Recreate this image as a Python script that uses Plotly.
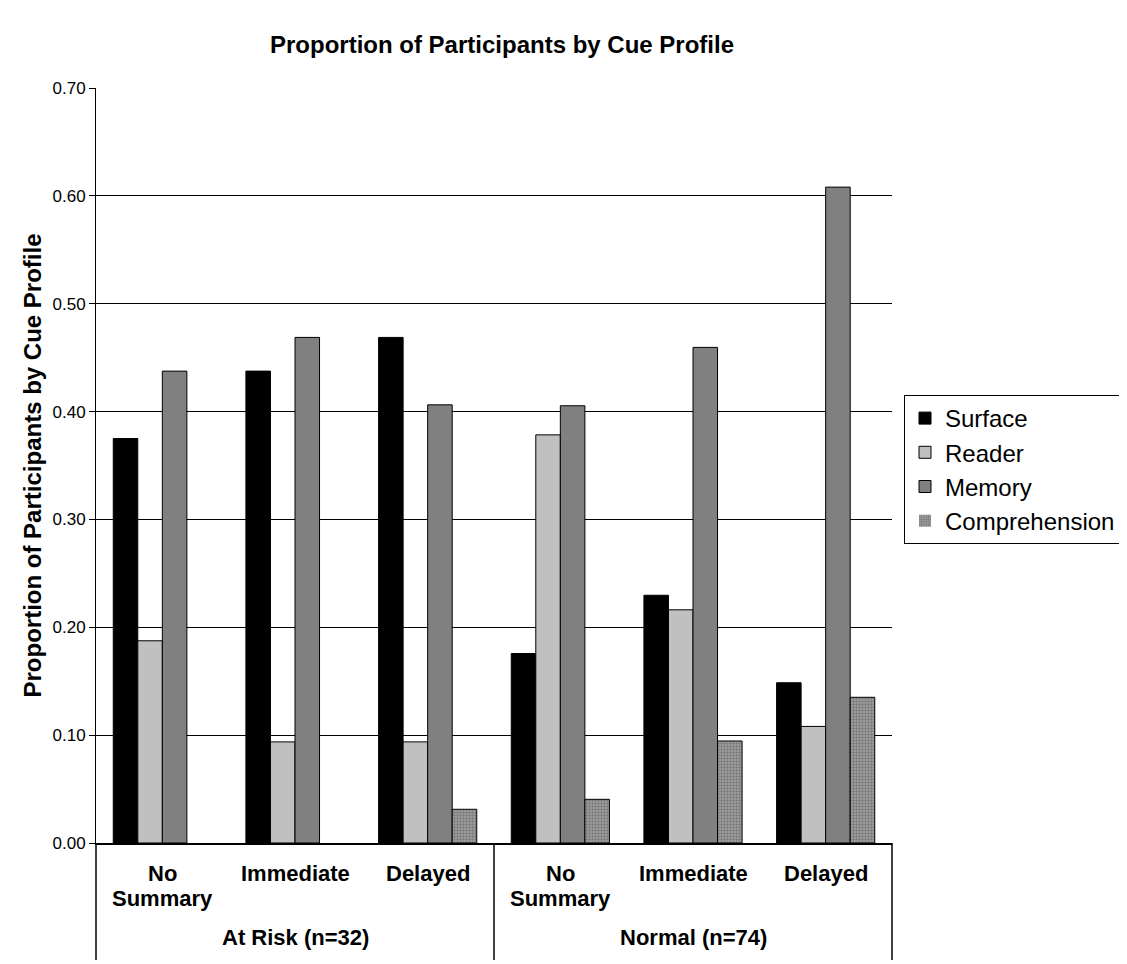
import plotly.graph_objects as go

categories = ["No<br>Summary", "Immediate", "Delayed", "No<br>Summary", "Immediate", "Delayed"]
groups = ["At Risk (n=32)", "Normal (n=74)"]
surface = [0.375, 0.4375, 0.46875, 0.1757, 0.2297, 0.1486]
reader = [0.1875, 0.09375, 0.09375, 0.3784, 0.2162, 0.1081]
memory = [0.4375, 0.46875, 0.40625, 0.4054, 0.4595, 0.6081]
comprehension = [0.0, 0.0, 0.03125, 0.0405, 0.0946, 0.1351]
yticks = [0.0, 0.1, 0.2, 0.3, 0.4, 0.5, 0.6, 0.7]

FONT = "Liberation Sans, Arial, sans-serif"
xs = list(range(len(categories)))

# page has an 8px body margin; figure coords = screen coords - 8
W, H = 1119, 956
L, T = 88, 80
PR, PB = 884, 835  # plot right / bottom in figure coords
PH = PB - T

fig = go.Figure()
series = [
    ("Surface", surface, "#000000", None),
    ("Reader", reader, "#c0c0c0", None),
    ("Memory", memory, "#808080", None),
    ("Comprehension", comprehension, "#909090",
     dict(shape=".", fgcolor="#505050", bgcolor="#a4a4a4", size=3, solidity=0.5)),
]
for name, vals, col, pat in series:
    marker = dict(color=col,
                  line=dict(color="#000000", width=[0 if v == 0 else 1 for v in vals]))
    if pat:
        marker["pattern"] = pat
    fig.add_trace(go.Bar(name=name, x=xs, y=vals, marker=marker))

fig.update_layout(
    width=W, height=H,
    margin=dict(l=L, r=W - PR, t=T, b=H - PB, autoexpand=False),
    paper_bgcolor="white", plot_bgcolor="white",
    barmode="group", bargap=0.26, bargroupgap=0,
    font=dict(family=FONT, color="#000000"),
    title=dict(text="<b>Proportion of Participants by Cue Profile</b>",
               x=494 / W, xanchor="center",
               y=1 - 37 / H, yanchor="middle",
               font=dict(size=24, family=FONT)),
    showlegend=True,
    legend=dict(x=(896 - L) / (PR - L), y=(PB - 387) / PH, xanchor="left", yanchor="top",
                bordercolor="#000000", borderwidth=1, bgcolor="white",
                font=dict(size=24, family=FONT), traceorder="normal"),
)

fig.update_xaxes(
    range=[-0.5, 5.5], tickmode="array", tickvals=xs, ticktext=[""] * 6,
    showline=True, linecolor="#000000", linewidth=2, ticks="",
    showgrid=False, zeroline=False,
)
fig.update_yaxes(
    range=[0, 0.7], tickmode="array", tickvals=yticks,
    ticktext=[f"{v:.2f}" for v in yticks],
    showline=True, linecolor="#000000", linewidth=1,
    ticks="outside", ticklen=6, tickcolor="#000000",
    showgrid=True, gridcolor="#000000", gridwidth=1,
    zeroline=False, tickfont=dict(size=17, family=FONT),
    title=dict(text="<b>Proportion of Participants by Cue Profile</b>",
               font=dict(size=24, family=FONT), standoff=4),
)

# category labels (one annotation per text line)
for i, c in enumerate(categories):
    for li, line in enumerate(c.split("<br>")):
        fig.add_annotation(x=i, y=0, xref="x", yref="paper", yshift=-30 - 25 * li,
                           text="<b>" + line + "</b>", showarrow=False,
                           yanchor="middle", align="center",
                           font=dict(size=22, family=FONT))
# group labels
for gi, g in enumerate(groups):
    fig.add_annotation(x=1 + 3 * gi, y=0, xref="x", yref="paper", yshift=-94,
                       text="<b>" + g + "</b>", showarrow=False,
                       yanchor="middle", font=dict(size=22, family=FONT))
# dividers
for px in [0, 0.5, 1]:
    fig.add_shape(type="line", xref="paper", yref="paper", x0=px, x1=px,
                  y0=0, y1=-117 / PH, line=dict(color="#000000", width=1.5))

fig.write_html("out.html")
